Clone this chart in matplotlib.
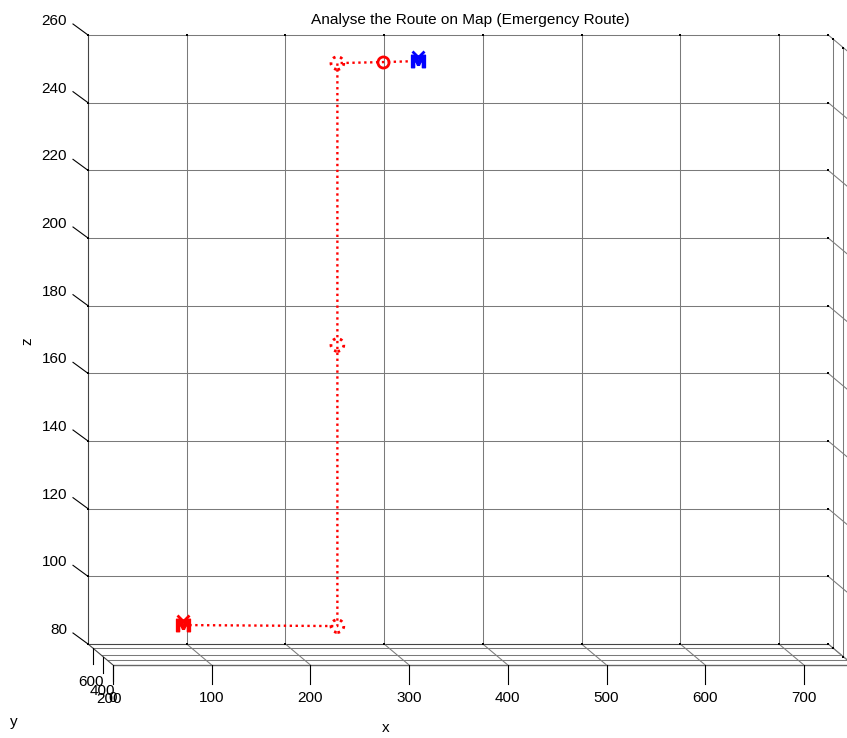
import numpy as np
import matplotlib.pyplot as plt

plt.rcParams['font.family'] = ['Liberation Sans', 'DejaVu Sans']

# axis ranges of the 3-D box
x_lim = (0, 750)
y_lim = (200, 700)
z_lim = (80, 260)
x_ticks = [0, 100, 200, 300, 400, 500, 600, 700]
y_ticks = [200, 400, 600]
z_ticks = [80, 100, 120, 140, 160, 180, 200, 220, 240, 260]

# emergency route (x, y, z)
route_x = [84, 240, 240, 240, 286, 322]
route_y = [450, 450, 450, 450, 450, 450]
route_z = [88.7, 88.4, 171.5, 254.8, 255.1, 255.4]

# screen scale (pixels per data unit) and oblique depth shift per unit of y
PX_X = 0.987
PX_Z = 3.3833
KX = 25 / PX_X / (y_lim[1] - y_lim[0])
KZ = 21 / PX_Z / (y_lim[1] - y_lim[0])


def proj(x, y, z):
    d = y_lim[1] - np.asarray(y, dtype=float)
    return np.asarray(x, dtype=float) + KX * d, np.asarray(z, dtype=float) - KZ * d


def seg(p0, p1, **kw):
    a = proj(*p0)
    b = proj(*p1)
    ax.plot([a[0], b[0]], [a[1], b[1]], solid_capstyle='butt', **kw)


fig = plt.figure(figsize=(8.47, 7.38), dpi=100)
ax = fig.add_axes([0, 0, 1, 1])
ax.set_xlim(-88 / PX_X, (847 - 88) / PX_X)
ax.set_ylim(z_lim[0] - 94 / PX_Z, z_lim[0] + 644 / PX_Z)
ax.axis('off')

grid = dict(color='#7a7a7a', lw=0.75, zorder=1)
edge = dict(color='#444444', lw=0.8, zorder=1)
x0, x1 = x_lim
y0, y1 = y_lim
z0, z1 = z_lim

# back wall (y = y max)
for z in z_ticks[1:-1]:
    seg((x0, y1, z), (x1, y1, z), **grid)
for x in x_ticks[1:]:
    seg((x, y1, z0), (x, y1, z1), **grid)
seg((x0, y1, z0), (x0, y1, z1), **edge)
seg((x0, y1, z1), (x1, y1, z1), **grid)
seg((x0, y1, z0), (x1, y1, z0), **edge)

# right wall (x = x max)
for z in z_ticks:
    seg((x1, y1, z), (x1, y0, z), **grid)
for y in y_ticks[1:]:
    seg((x1, y, z0), (x1, y, z1), **grid)

# floor (z = z min)
for y in [600, 450, 325]:
    seg((x0, y, z0), (x1, y, z0), **grid)
seg((x0, y0, z0), (x1, y0, z0), color='#666666', lw=1.0, zorder=1)
for x in x_ticks[1:] + [x1]:
    seg((x, y1, z0), (x, y0, z0), **grid)
seg((x0, y1, z0), (x0, y0, z0), **edge)

# small tick dots along the back edges
dots = [proj(x0, y1, z) for z in z_ticks]
dots += [proj(x, y1, z1) for x in x_ticks] + [proj(x, y1, z0) for x in x_ticks]
dots += [proj(x1, y, z1) for y in y_ticks[1:]] + [proj(x1, y, z0) for y in y_ticks[1:]]
dots += [proj(x1, y1, z) for z in z_ticks]
ax.plot([d[0] for d in dots], [d[1] for d in dots], 's', color='black',
        ms=1.6, mew=0, zorder=2)

# tick marks and labels
fs = 11
for z in z_ticks:
    px, pz = proj(x0, y1, z)
    ax.plot([px, px - 15 / PX_X], [pz, pz + 11 / PX_Z], color='black', lw=0.8)
    ax.annotate(str(z), (px, pz), xytext=(-21, 14), textcoords='offset pixels',
                ha='right', va='center', fontsize=fs)
for x in x_ticks:
    px, pz = proj(x, y0, z0)
    ax.plot([px, px], [pz, pz - 19 / PX_Z], color='black', lw=0.8)
    ax.annotate(str(x), (px, pz), xytext=(0, -33), textcoords='offset pixels',
                ha='center', va='center', fontsize=fs)
for y, dx in zip(y_ticks, [-4, -1, -2]):
    px, pz = proj(x0, y, z0)
    ax.plot([px, px], [pz, pz - 16 / PX_Z], color='black', lw=0.8)
    ax.annotate(str(y), (px, pz), xytext=(dx, -34),
                textcoords='offset pixels', ha='center', va='center', fontsize=fs)

ax.text(27 / 847, 1 - 341 / 738, 'z', transform=fig.transFigure, rotation=90,
        ha='center', va='center', fontsize=fs)
ax.text(386 / 847, 1 - 728 / 738, 'x', transform=fig.transFigure,
        ha='center', va='center', fontsize=fs)
ax.text(14 / 847, 1 - 722 / 738, 'y', transform=fig.transFigure,
        ha='center', va='center', fontsize=fs)
ax.text(470 / 847, 1 - 20 / 738, 'Analyse the Route on Map (Emergency Route)',
        transform=fig.transFigure, ha='center', va='center', fontsize=11.1)

# route
rx, rz = proj(route_x, route_y, route_z)
ax.plot(rx, rz, color='red', lw=1.7, linestyle=(0, (1, 1.5)), zorder=3)
ax.scatter(rx[1:4], rz[1:4], s=85, facecolors='none', edgecolors='red',
           linewidths=2.0, linestyles=':', zorder=4)
ax.plot(rx[4], rz[4], 'o', mfc='none', mec='red', ms=8, mew=2, zorder=4)
ax.plot(rx[0], rz[0], marker=r'$\mathbf{M}$', color='red', ms=10, zorder=4)
ax.plot(rx[0], rz[0] + 1.2, marker='x', color='red', ms=8, mew=2, zorder=4)
ax.plot(rx[5], rz[5], marker=r'$\mathbf{M}$', color='blue', ms=10, zorder=4)
ax.plot(rx[5], rz[5] + 1.2, marker='x', color='blue', ms=8, mew=2, zorder=4)

fig.savefig('out.png', dpi=100)
